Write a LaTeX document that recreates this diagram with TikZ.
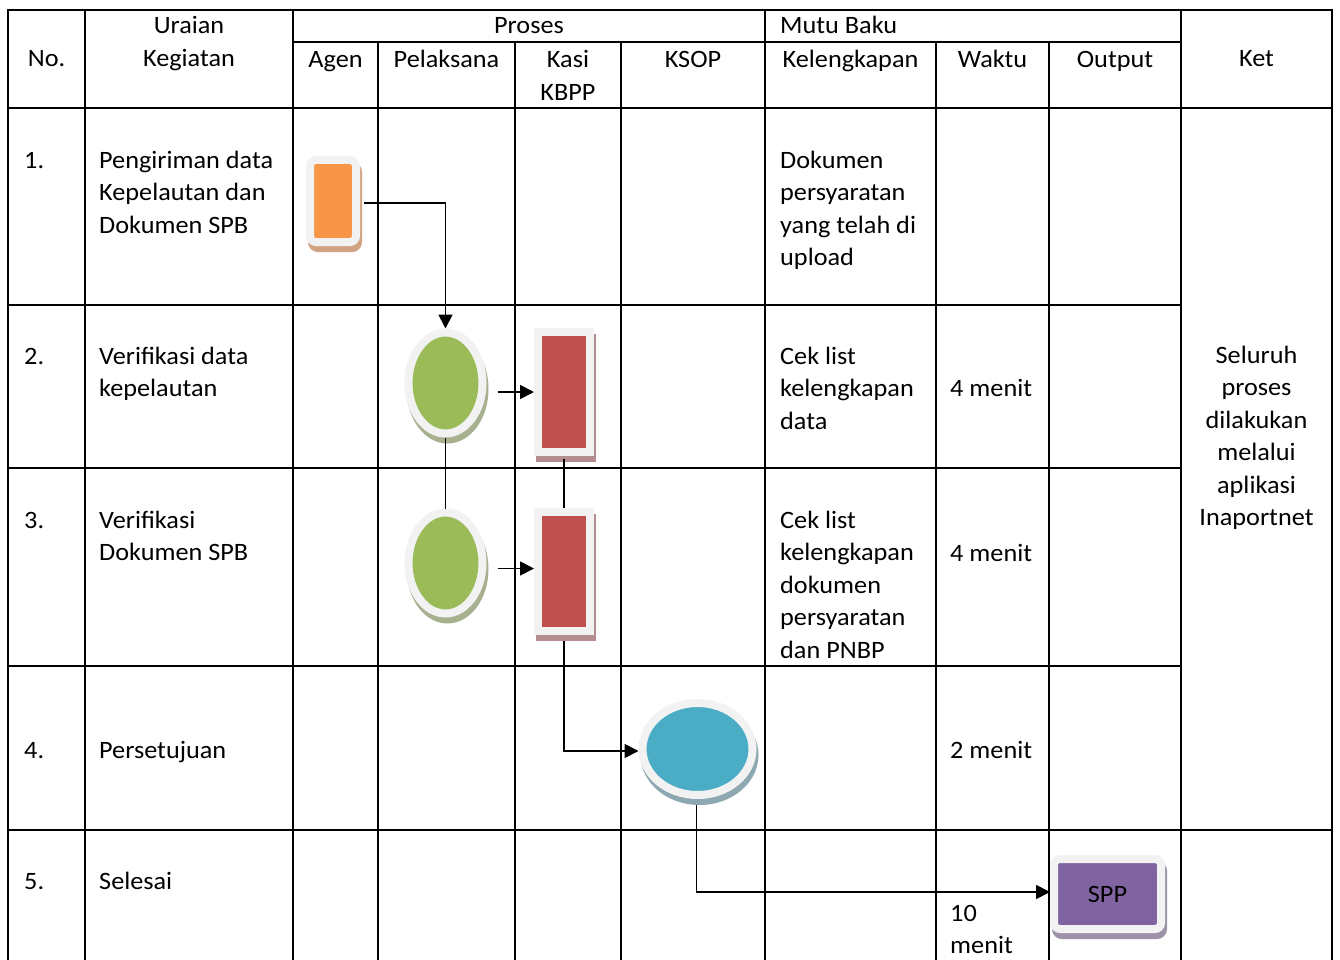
\documentclass[tikz,border=0pt]{standalone}
\usepackage{fontspec}
\setmainfont[FakeStretch=1.05]{Carlito}
\usetikzlibrary{shapes.geometric,arrows.meta,calc}
\definecolor{rim}{HTML}{F2F2F2}
\definecolor{agenfill}{HTML}{F79646}\definecolor{agenshade}{HTML}{D1A383}
\definecolor{pelfill}{HTML}{9BBB59}\definecolor{pelshade}{HTML}{A7B08F}
\definecolor{kasifill}{HTML}{C0504D}\definecolor{kasishade}{HTML}{B48E8E}
\definecolor{ksopfill}{HTML}{4BACC6}\definecolor{ksopshade}{HTML}{8DA8B0}
\definecolor{outfill}{HTML}{8064A2}\definecolor{outshade}{HTML}{9C93A8}
\begin{document}
\begin{tikzpicture}[x=1pt,y=-1pt,
  gridline/.style={line width=2pt,line cap=rect},
  tfont/.style={font=\fontsize{25}{32.5}\selectfont},
  % multi-line nodes are placed by the baseline of their last line
  txt/.style={tfont,inner sep=0pt,align=left,anchor=base west},
  ctxt/.style={tfont,inner sep=0pt,align=center,anchor=base},
  conn/.style={line width=1.8pt},
  flow/.style={conn,-{Triangle[length=14pt,width=14pt]}},
  symbol/.style 2 args={draw=rim,line width=8pt,fill=#1,inner sep=0pt,
    preaction={draw=#2,fill=#2,line width=8pt,
      transform canvas={xshift=2pt,yshift=-6pt}}},
  docbox/.style 2 args={rectangle,symbol={#1}{#2}},
  softbox/.style 2 args={rectangle,rounded corners=6pt,symbol={#1}{#2}},
  oval/.style 2 args={ellipse,symbol={#1}{#2}}
]
\useasboundingbox (0,0) rectangle (1340,960);

% table rules
\draw[gridline] (8,10) -- (1332,10);
\draw[gridline] (293,42) -- (1181,42);
\draw[gridline] (8,108) -- (1332,108);
\draw[gridline] (8,305) -- (1181,305);
\draw[gridline] (8,468) -- (1181,468);
\draw[gridline] (8,666) -- (1181,666);
\draw[gridline] (8,830) -- (1332,830);
\foreach \x in {8,85,293,765,1181,1332}
  \draw[gridline] (\x,10) -- (\x,960);
\foreach \x in {378,515,621,936,1049}
  \draw[gridline] (\x,42) -- (\x,960);

% header
\node[ctxt] (hno) at (46.5,67) {No.};
\node[ctxt] (hur) at (189,66.5) {Uraian\\Kegiatan};
\node[ctxt] (hpr) at (529,34) {Proses};
\node[txt]  (hmb) at (780,34) {Mutu Baku};
\node[ctxt] (hag) at (335.5,68) {Agen};
\node[ctxt] (hpl) at (446.5,68) {Pelaksana};
\node[ctxt] (hks) at (568,100.5) {Kasi\\KBPP};
\node[ctxt] (hko) at (693,68) {KSOP};
\node[ctxt] (hkl) at (850.5,68) {Kelengkapan};
\node[ctxt] (hwk) at (992.5,68) {Waktu};
\node[ctxt] (hou) at (1115,68) {Output};
\node[ctxt] (hkt) at (1256.5,67) {Ket};

% row 1
\node[txt] (n1) at (24,168) {1.};
\node[txt] (u1) at (99,233) {Pengiriman data\\Kepelautan dan\\Dokumen SPB};
\node[txt] (k1) at (780,265.5) {Dokumen\\persyaratan\\yang telah di\\upload};
% row 2
\node[txt] (n2) at (24,364) {2.};
\node[txt] (u2) at (99,396.5) {Verifikasi data\\kepelautan};
\node[txt] (k2) at (780,429) {Cek list\\kelengkapan\\data};
\node[txt] (w2) at (950,396) {4 menit};
% row 3
\node[txt] (n3) at (24,528) {3.};
\node[txt] (u3) at (99,560.5) {Verifikasi\\Dokumen SPB};
\node[txt] (k3) at (780,658) {Cek list\\kelengkapan\\dokumen\\persyaratan\\dan PNBP};
\node[txt] (w3) at (950,561) {4 menit};
% row 4
\node[txt] (n4) at (24,758) {4.};
\node[txt] (u4) at (99,758) {Persetujuan};
\node[txt] (w4) at (950,758) {2 menit};
% row 5
\node[txt] (n5) at (24,889) {5.};
\node[txt] (u5) at (99,889) {Selesai};
\node[txt] (w5) at (950,953.5) {10\\menit};
% remarks
\node[ctxt] (ket) at (1256.5,525.5) {Seluruh\\proses\\dilakukan\\melalui\\aplikasi\\Inaportnet};

% flow symbols
\node[softbox={agenfill}{agenshade},minimum width=46pt,minimum height=82pt] (o1) at (333,201) {};
\node[oval={pelfill}{pelshade},minimum width=74pt,minimum height=101pt] (g1) at (445.5,383) {};
\node[oval={pelfill}{pelshade},minimum width=74pt,minimum height=101pt] (g2) at (445.5,563) {};
\node[docbox={kasifill}{kasishade},minimum width=52pt,minimum height=120pt] (r1) at (564,392) {};
\node[docbox={kasifill}{kasishade},minimum width=52pt,minimum height=119pt] (r2) at (564,571.5) {};
\node[oval={ksopfill}{ksopshade},minimum width=110pt,minimum height=92pt] (b1) at (697.5,749) {};
\node[softbox={outfill}{outshade},minimum width=107pt,minimum height=70pt,tfont] (s1) at (1107.5,894) {SPP};

% connectors
\draw[flow] ($(o1.east)+(4,2)$) -| (g1.north);
\draw[conn] (g1.south) -- (g2.north);
\draw[flow] ($(g1.east |- r1.west)+(11,0)$) -- (r1.west);
\draw[flow] ($(g2.east |- r2.west)+(11,-3)$) -- ($(r2.west)+(0,-3)$);
\draw[conn] ($(r1.south)+(0,3)$) -- (r2.north);
\draw[flow] ($(r2.south)+(0,6)$) |- ($(b1.west)+(0,2)$);
\draw[flow] ($(b1.south)+(-1,6)$) |- ($(s1.west)+(0,-2)$);
\end{tikzpicture}
\end{document}
